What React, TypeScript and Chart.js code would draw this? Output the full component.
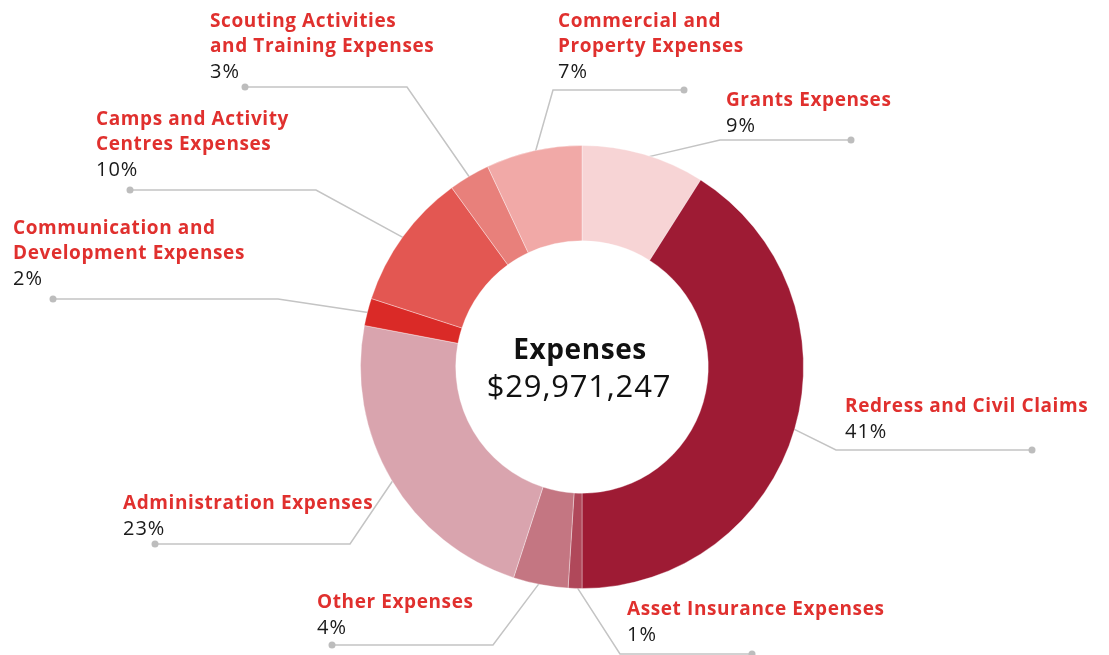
import React, { useEffect, useRef } from "react";
import { Chart, registerables } from "chart.js";

Chart.register(...registerables);

const CATEGORIES: string[][] = [
  ["Grants Expenses"],
  ["Redress and Civil Claims"],
  ["Asset Insurance Expenses"],
  ["Other Expenses"],
  ["Administration Expenses"],
  ["Communication and", "Development Expenses"],
  ["Camps and Activity", "Centres Expenses"],
  ["Scouting Activities", "and Training Expenses"],
  ["Commercial and", "Property Expenses"],
];
const VALUES: number[] = [9, 41, 1, 4, 23, 2, 10, 3, 7];
const COLORS: string[] = [
  "#f7d4d5",
  "#9e1b34",
  "#b0485a",
  "#c47682",
  "#d9a4ae",
  "#da2a27",
  "#e35752",
  "#e8807b",
  "#f1a9a7",
];
const CENTER_TITLE = "Expenses";
const CENTER_VALUE = "$29,971,247";

// annotation placement for the leader-line labels (text x, first line y, line y, elbow x, dot x)
const LABEL_LAYOUT = [
  { tx: 726, ty: 101, lineY: 140, elbowX: 720, dotX: 851 },
  { tx: 845, ty: 407, lineY: 450, elbowX: 836, dotX: 1032 },
  { tx: 627, ty: 610, lineY: 654, elbowX: 620, dotX: 752 },
  { tx: 317, ty: 603, lineY: 645, elbowX: 493, dotX: 332 },
  { tx: 123, ty: 504, lineY: 544, elbowX: 350, dotX: 155 },
  { tx: 13, ty: 229, lineY: 299, elbowX: 278, dotX: 53 },
  { tx: 96, ty: 120, lineY: 190, elbowX: 316, dotX: 130 },
  { tx: 210, ty: 22, lineY: 87, elbowX: 407, dotX: 245 },
  { tx: 558, ty: 22, lineY: 90, elbowX: 553, dotX: 684 },
];

const FONT = "'Open Sans', Lato, sans-serif";

const leaderPlugin = {
  id: "leaderLabels",
  beforeDatasetsDraw(chart: any) {
    const ctx = chart.ctx;
    const meta = chart.getDatasetMeta(0);
    ctx.save();
    meta.data.forEach((arc: any, i: number) => {
      const L = LABEL_LAYOUT[i];
      if (!L) return;
      const mid = (arc.startAngle + arc.endAngle) / 2;
      const r = arc.outerRadius - 4;
      const ax = arc.x + Math.cos(mid) * r;
      const ay = arc.y + Math.sin(mid) * r;
      ctx.strokeStyle = "#c4c4c4";
      ctx.lineWidth = 1.5;
      ctx.beginPath();
      ctx.moveTo(ax, ay);
      ctx.lineTo(L.elbowX, L.lineY);
      ctx.lineTo(L.dotX, L.lineY);
      ctx.stroke();
      ctx.fillStyle = "#bdbdbd";
      ctx.beginPath();
      ctx.arc(L.dotX, L.lineY, 3.5, 0, Math.PI * 2);
      ctx.fill();
    });
    ctx.restore();
  },
  afterDraw(chart: any) {
    const ctx = chart.ctx;
    const meta = chart.getDatasetMeta(0);
    const total = VALUES.reduce((a, b) => a + b, 0);
    ctx.save();
    ctx.textAlign = "left";
    ctx.textBaseline = "middle";
    CATEGORIES.forEach((lines, i) => {
      const L = LABEL_LAYOUT[i];
      if (!L) return;
      ctx.font = `bold 19px ${FONT}`;
      (ctx as any).letterSpacing = "0.6px";
      ctx.fillStyle = "#e0302e";
      lines.forEach((ln, k) => ctx.fillText(ln, L.tx, L.ty + k * 25));
      ctx.font = `20px ${FONT}`;
      (ctx as any).letterSpacing = "1px";
      ctx.fillStyle = "#1a1a1a";
      const pct = Math.round((VALUES[i] / total) * 100) + "%";
      ctx.fillText(pct, L.tx, L.ty + lines.length * 25);
    });
    // center text
    const arc0 = meta.data[0];
    if (arc0) {
      ctx.textAlign = "left";
      ctx.fillStyle = "#111";
      ctx.font = `bold 28px ${FONT}`;
      (ctx as any).letterSpacing = "0.6px";
      let w = ctx.measureText(CENTER_TITLE).width;
      ctx.fillText(CENTER_TITLE, arc0.x - 2 - w / 2, arc0.y - 16);
      ctx.font = `31px ${FONT}`;
      (ctx as any).letterSpacing = "0.8px";
      w = ctx.measureText(CENTER_VALUE).width;
      ctx.fillText(CENTER_VALUE, arc0.x - 3 - w / 2, arc0.y + 21);
    }
    ctx.restore();
  },
};

export default function App() {
  const ref = useRef<HTMLCanvasElement | null>(null);
  useEffect(() => {
    if (!ref.current) return;
    const chart = new Chart(ref.current, {
      type: "doughnut",
      data: {
        labels: CATEGORIES.map((l) => l.join(" ")),
        datasets: [
          {
            data: VALUES,
            backgroundColor: COLORS,
            borderColor: "rgba(255,255,255,0.35)",
            borderWidth: 1,
          },
        ],
      },
      options: {
        animation: false,
        responsive: false,
        cutout: "57%",
        layout: { padding: { left: 360, right: 305, top: 145, bottom: 66 } },
        plugins: {
          legend: { display: false },
          tooltip: { enabled: false },
        },
      },
      plugins: [leaderPlugin],
    });
    return () => chart.destroy();
  }, []);
  return (
    <div style={{ position: "absolute", left: 0, top: 0, width: 1109, height: 655, background: "#fff" }}>
      <canvas ref={ref} width={1109} height={655} style={{ width: 1109, height: 655 }} />
    </div>
  );
}
